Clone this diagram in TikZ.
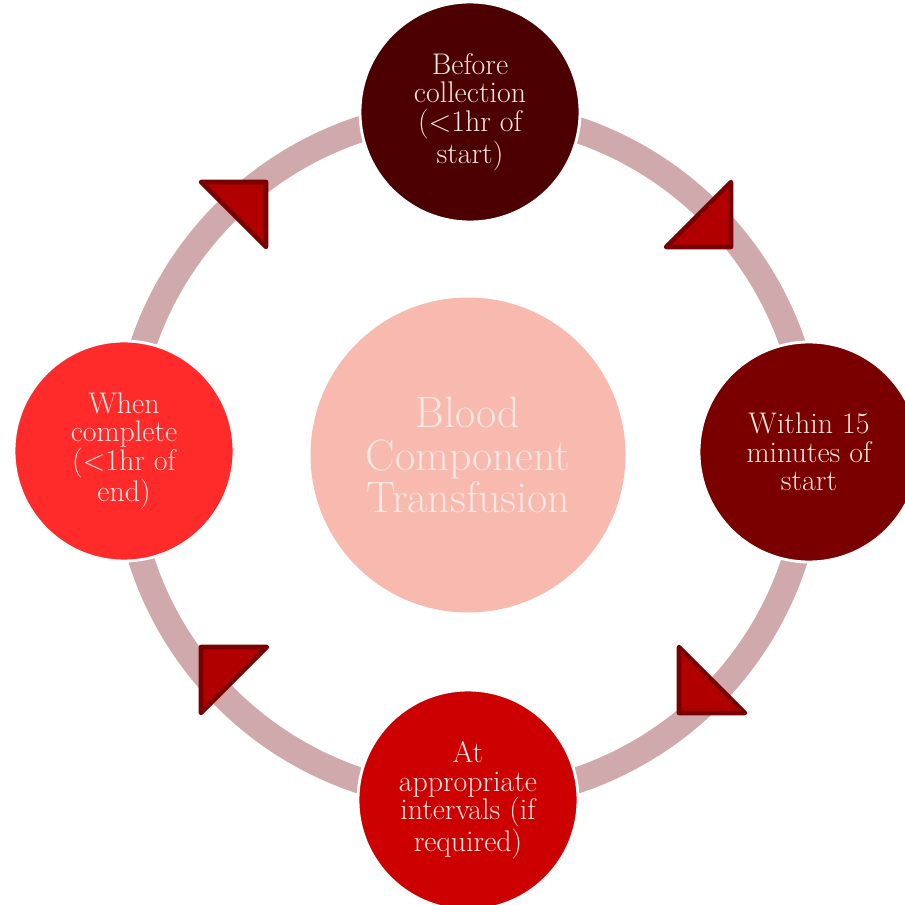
\documentclass[tikz,border=0pt]{standalone}
\usepackage{tikz}
\usepackage{xcolor}
\definecolor{ringgray}{HTML}{CFA9AB}
\definecolor{darkmaroon}{HTML}{4C0000}
\definecolor{maroon}{HTML}{7A0000}
\definecolor{bloodred}{HTML}{CC0000}
\definecolor{brightred}{HTML}{FF2A2A}
\definecolor{salmon}{HTML}{F8B9AF}
\definecolor{arrowfill}{HTML}{B00000}
\definecolor{arrowedge}{HTML}{780000}
\definecolor{textcream}{HTML}{F4E8E2}

\begin{document}
\begin{tikzpicture}[
    stage/.style={circle,draw=white,line width=1.6pt,minimum size=4.4cm,inner sep=0pt,align=center,text=textcream,font=\fontsize{17}{16.2}\selectfont},
    hub/.style={circle,minimum size=6.3cm,inner sep=0pt,align=center,text=textcream,font=\fontsize{25}{24}\selectfont},
    tri/.style={draw=arrowedge,fill=arrowfill,line width=2.6pt,line join=round}
]
\useasboundingbox (-9.36,-9.00) rectangle (8.74,9.10);
\draw[ringgray,line width=0.52cm] (0,0) circle (6.86);

\node[hub,fill=salmon] (transfusion) at (0,0) {Blood\\Component\\Transfusion};

\node[stage,fill=darkmaroon] (collection) at (0.04,6.86) {Before\\collection\\(\textless1hr of\\start)};
\node[stage,fill=maroon] (fifteen) at (6.82,0.06) {Within 15\\minutes of\\start};
\node[stage,fill=bloodred] (intervals) at (0,-6.9) {At\\appropriate\\intervals (if\\required)};
\node[stage,fill=brightred] (complete) at (-6.88,0.08) {When\\complete\\(\textless1hr of\\end)};

\draw[tri] (5.26,5.46) -- (5.26,4.16) -- (3.96,4.16) -- cycle;
\draw[tri] (4.22,-3.84) -- (4.22,-5.16) -- (5.54,-5.16) -- cycle;
\draw[tri] (-5.34,-3.84) -- (-4.02,-3.84) -- (-5.34,-5.16) -- cycle;
\draw[tri] (-5.34,5.46) -- (-4.04,5.46) -- (-4.04,4.16) -- cycle;
\end{tikzpicture}
\end{document}
